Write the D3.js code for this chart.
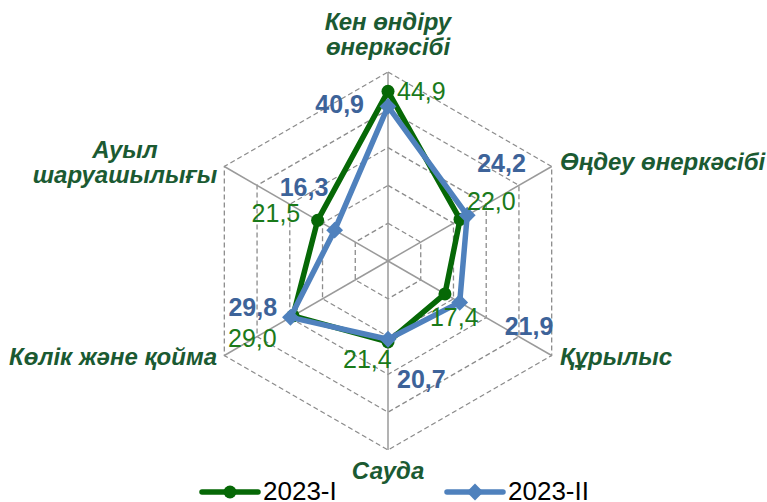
<!DOCTYPE html>
<html>
<head>
    <meta charset="UTF-8"/>
    <style>
        body {
            margin: 0;
            background: #fff;
            font-family: "Liberation Sans", Arial, Helvetica, sans-serif;
        }
    </style>
</head>
<body>
<script src="https://d3js.org/d3.v7.min.js"></script>
<div id="chart"></div>
<script>
    // categories, clockwise from the top
    var categories = ["Кен өндіру өнеркәсібі", "Өңдеу өнеркәсібі", "Құрылыс",
                      "Сауда", "Көлік және қойма", "Ауыл шаруашылығы"];
    var series1 = [44.9, 22.0, 17.4, 21.4, 29.0, 21.5];   // 2023-I
    var series2 = [40.9, 24.2, 21.9, 20.7, 29.8, 16.3];   // 2023-II
    var seriesNames = ["2023-I", "2023-II"];
    var gridTicks = [10, 20, 30, 40, 50];

    var width = 767, height = 502;
    var cx = 388, cy = 261, radius = 189;

    var green = "#066806", blue = "#4f81bd";
    var greenText = "#1a7a1a", blueText = "#3d6399", catColor = "#1b5a32";

    var svg = d3.select("#chart").append("svg")
        .attr("width", width)
        .attr("height", height);

    var r = d3.scaleLinear().domain([0, 50]).range([0, radius]);
    var angle = d3.scaleLinear().domain([0, categories.length]).range([0, 2 * Math.PI]);

    function pt(i, v) {
        var a = angle(i);
        return [cx + r(v) * Math.sin(a), cy - r(v) * Math.cos(a)];
    }

    var g = svg.append("g");

    // dashed hexagon rings
    g.selectAll(".ring")
        .data(gridTicks)
        .enter()
        .append("polygon")
        .attr("points", function(t) {
            return categories.map(function(c, i) { return pt(i, t).join(","); }).join(" ");
        })
        .attr("fill", "none")
        .attr("stroke", "#8c8c8c")
        .attr("stroke-width", 1.3)
        .attr("stroke-dasharray", "5,3");

    // spokes
    g.selectAll(".spoke")
        .data(categories)
        .enter()
        .append("line")
        .attr("x1", cx).attr("y1", cy)
        .attr("x2", function(d, i) { return pt(i, 50)[0]; })
        .attr("y2", function(d, i) { return pt(i, 50)[1]; })
        .attr("stroke", "#9a9a9a")
        .attr("stroke-width", 1.5);

    var line = d3.line().curve(d3.curveLinearClosed);

    function drawSeries(vals, color) {
        g.append("path")
            .datum(vals.map(function(v, i) { return pt(i, v); }))
            .attr("d", line)
            .attr("fill", "none")
            .attr("stroke", color)
            .attr("stroke-width", 5.5)
            .attr("stroke-linejoin", "round");
    }

    drawSeries(series1, green);
    g.selectAll(".dot")
        .data(series1)
        .enter()
        .append("circle")
        .attr("cx", function(v, i) { return pt(i, v)[0]; })
        .attr("cy", function(v, i) { return pt(i, v)[1]; })
        .attr("r", 6.5)
        .attr("fill", green);

    drawSeries(series2, blue);
    var diamond = d3.symbol().type(d3.symbolDiamond2).size(180);
    g.selectAll(".dia")
        .data(series2)
        .enter()
        .append("path")
        .attr("d", diamond)
        .attr("transform", function(v, i) { return "translate(" + pt(i, v) + ")"; })
        .attr("fill", blue);

    // data labels: offset of text start / baseline from the point
    var off1 = [[9, 9, "start"], [7, -9, "start"], [-15, 32, "start"], [-45, 26, "start"], [-65, 31, "start"], [-66, 2, "start"]];
    var off2 = [[-24, 7, "end"], [10, -43, "start"], [45, 33, "start"], [9, 49, "start"], [-62, -1, "start"], [-55, -34, "start"]];

    var fmt = function(v) { return d3.format(".1f")(v).replace(".", ","); };

    g.selectAll(".lab1")
        .data(series1)
        .enter()
        .append("text")
        .attr("x", function(v, i) { return pt(i, v)[0] + off1[i][0]; })
        .attr("y", function(v, i) { return pt(i, v)[1] + off1[i][1]; })
        .attr("text-anchor", function(v, i) { return off1[i][2]; })
        .attr("font-size", "25px")
        .attr("fill", greenText)
        .text(fmt);

    g.selectAll(".lab2")
        .data(series2)
        .enter()
        .append("text")
        .attr("x", function(v, i) { return pt(i, v)[0] + off2[i][0]; })
        .attr("y", function(v, i) { return pt(i, v)[1] + off2[i][1]; })
        .attr("text-anchor", function(v, i) { return off2[i][2]; })
        .attr("font-size", "25px")
        .attr("font-weight", "bold")
        .attr("fill", blueText)
        .text(fmt);

    // category labels
    var catPos = [
        {x: 388, y: 30, anchor: "middle", lines: ["Кен өндіру", "өнеркәсібі"]},
        {x: 560, y: 170, anchor: "start", lines: ["Өңдеу өнеркәсібі"]},
        {x: 560, y: 365, anchor: "start", lines: ["Құрылыс"]},
        {x: 388, y: 479, anchor: "middle", lines: ["Сауда"]},
        {x: 217, y: 365, anchor: "end", lines: ["Көлік және қойма"]},
        {x: 125, y: 158, anchor: "middle", lines: ["Ауыл", "шаруашылығы"]}
    ];

    var cats = svg.selectAll(".cat")
        .data(catPos)
        .enter()
        .append("text")
        .attr("text-anchor", function(d) { return d.anchor; })
        .attr("font-size", "24px")
        .attr("font-weight", "bold")
        .attr("font-style", "italic")
        .attr("fill", catColor);

    cats.selectAll("tspan")
        .data(function(d) { return d.lines.map(function(l) { return {d: d, l: l}; }); })
        .enter()
        .append("tspan")
        .attr("x", function(o) { return o.d.x; })
        .attr("y", function(o, j) { return o.d.y + j * 24.5; })
        .text(function(o) { return o.l; });

    // legend
    var legend = svg.append("g");
    var legItems = [
        {name: seriesNames[0], color: green, x: 202},
        {name: seriesNames[1], color: blue, x: 447}
    ];
    legItems.forEach(function(it, k) {
        legend.append("line")
            .attr("x1", it.x).attr("x2", it.x + 56)
            .attr("y1", 492).attr("y2", 492)
            .attr("stroke", it.color)
            .attr("stroke-width", 5.5)
            .attr("stroke-linecap", "round");
        if (k === 0) {
            legend.append("circle")
                .attr("cx", it.x + 28).attr("cy", 492).attr("r", 6.5)
                .attr("fill", it.color);
        } else {
            legend.append("path")
                .attr("d", diamond)
                .attr("transform", "translate(" + (it.x + 28) + ",492)")
                .attr("fill", it.color);
        }
        legend.append("text")
            .attr("x", it.x + 61)
            .attr("y", 500)
            .attr("font-size", "26px")
            .attr("fill", "#000")
            .text(it.name);
    });
</script>
</body>
</html>
